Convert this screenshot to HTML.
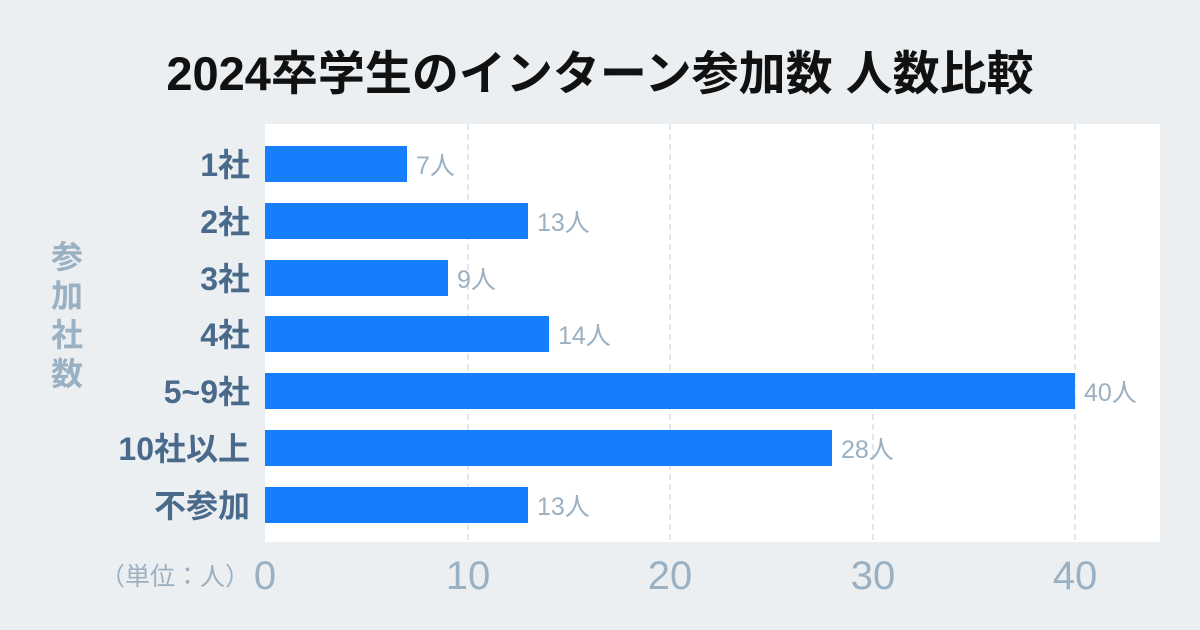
<!DOCTYPE html>
<html><head><meta charset="utf-8"><style>
body{margin:0;background:#ebeff1;}
svg{display:block}
text{font-family:"Liberation Sans","Noto Sans CJK JP",sans-serif;}
</style></head><body>
<svg width="1200" height="630" viewBox="0 0 1200 630">
<rect width="1200" height="630" fill="#ebeff1"/>
<text x="600" y="90" text-anchor="middle" font-size="47" font-weight="bold" fill="#111">2024卒学生のインターン参加数 人数比較</text>
<rect x="265" y="124" width="895" height="418" fill="#fff"/>
<g stroke="#bfd0de" stroke-width="1" stroke-dasharray="6 4">
<line x1="468" y1="124" x2="468" y2="542"/><line x1="670" y1="124" x2="670" y2="542"/>
<line x1="873" y1="124" x2="873" y2="542"/><line x1="1075" y1="124" x2="1075" y2="542"/>
</g>
<g fill="#167efb">
<rect x="265" y="146" width="142" height="36"/>
<rect x="265" y="203" width="263" height="36"/>
<rect x="265" y="260" width="183" height="36"/>
<rect x="265" y="316" width="284" height="36"/>
<rect x="265" y="373" width="810" height="36"/>
<rect x="265" y="430" width="567" height="36"/>
<rect x="265" y="487" width="263" height="36"/>
</g>
<g font-size="25" fill="#9ab0c3">
<text x="416" y="174">7人</text><text x="537" y="231">13人</text><text x="457" y="288">9人</text>
<text x="558" y="344">14人</text><text x="1084" y="401">40人</text><text x="841" y="458">28人</text><text x="537" y="515">13人</text>
</g>
<g font-size="32" font-weight="bold" fill="#4a6a8c" text-anchor="end">
<text x="250" y="176">1社</text><text x="250" y="233">2社</text><text x="250" y="290">3社</text>
<text x="250" y="346">4社</text><text x="250" y="403">5~9社</text><text x="250" y="460">10社以上</text><text x="250" y="517">不参加</text>
</g>
<g font-size="32" font-weight="bold" fill="#9ab0c3" text-anchor="middle">
<text x="67" y="268">参</text><text x="67" y="307">加</text><text x="67" y="346">社</text><text x="67" y="385">数</text>
</g>
<g font-size="40" fill="#9ab0c3" text-anchor="middle">
<text x="265" y="589">0</text><text x="468" y="589">10</text><text x="670" y="589">20</text><text x="873" y="589">30</text><text x="1075" y="589">40</text>
</g>
<text x="250" y="585" text-anchor="end" font-size="25" fill="#9ab0c3">（単位：人）</text>
</svg>
</body></html>
